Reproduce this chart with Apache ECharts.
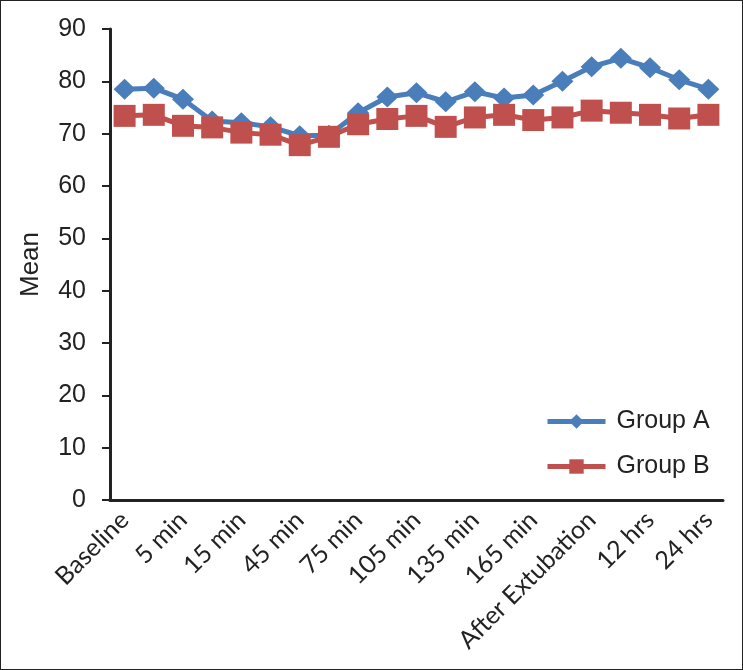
<!DOCTYPE html>
<html>
<head>
<meta charset="utf-8">
<script src="https://cdn.jsdelivr.net/npm/echarts@6/dist/echarts.min.js"></script>
<style>
  html, body { margin: 0; padding: 0; background: #fff; }
  #chart { width: 743px; height: 670px; box-sizing: border-box; border: 1px solid #222; }
</style>
</head>
<body>
<div id="chart"></div>
<script>
const categories = ["Baseline", "1 min", "5 min", "10 min", "15 min", "30 min", "45 min", "60 min",
  "75 min", "90 min", "105 min", "120 min", "135 min", "150 min", "165 min", "180 min",
  "After Extubation", "6 hrs", "12 hrs", "18 hrs", "24 hrs"];
const groupA = [78.5, 78.7, 76.6, 72.4, 72.1, 71.3, 69.6, 69.7, 74.0, 77.0, 77.8, 76.1, 78.0, 76.8,
  77.4, 80.0, 82.8, 84.4, 82.6, 80.3, 78.5];
const groupB = [73.4, 73.6, 71.5, 71.2, 70.2, 69.8, 67.8, 69.4, 71.8, 72.8, 73.4, 71.3, 73.1, 73.6,
  72.6, 73.1, 74.4, 74.0, 73.6, 72.9, 73.6];
const yTicks = { min: 0, max: 90, interval: 10 };

const chart = echarts.init(document.getElementById('chart'));
chart.setOption({
  animation: false,
  grid: { left: 109, right: 19, top: 28, bottom: 169 },
  legend: {
    orient: 'vertical',
    left: 539, top: 403,
    itemWidth: 58, itemHeight: 18, itemGap: 20,
    lineStyle: { width: 5 },
    textStyle: { fontFamily: 'Liberation Sans', fontSize: 25, color: '#222', padding: [0, 0, 0, 6] },
    data: ['Group A', 'Group B']
  },
  xAxis: {
    type: 'category',
    data: categories,
    boundaryGap: true,
    axisLine: { lineStyle: { color: '#222', width: 3 } },
    axisTick: { show: false },
    axisLabel: {
      interval: 1, rotate: 45, margin: 16,
      fontFamily: 'Lato', fontSize: 25, color: '#222'
    }
  },
  yAxis: {
    type: 'value',
    min: yTicks.min, max: yTicks.max, interval: yTicks.interval,
    name: 'Mean', nameLocation: 'middle', nameGap: 66,
    nameTextStyle: { fontFamily: 'Liberation Sans', fontSize: 26, color: '#222' },
    splitLine: { show: false },
    axisLine: { show: true, lineStyle: { color: '#222', width: 3 } },
    axisTick: { show: true, length: 8, lineStyle: { color: '#222', width: 2 } },
    axisLabel: { margin: 24, fontFamily: 'Liberation Sans', fontSize: 25, color: '#222' }
  },
  series: [
    {
      name: 'Group A', type: 'line', data: groupA,
      symbol: 'diamond', symbolSize: [22, 21], showAllSymbol: true,
      lineStyle: { color: '#4A7EBB', width: 5 },
      itemStyle: { color: '#4A7EBB' }
    },
    {
      name: 'Group B', type: 'line', data: groupB,
      symbol: 'rect', symbolSize: [22, 22], showAllSymbol: true,
      lineStyle: { color: '#C0504D', width: 5 },
      itemStyle: { color: '#C0504D' }
    }
  ]
});
</script>
</body>
</html>
